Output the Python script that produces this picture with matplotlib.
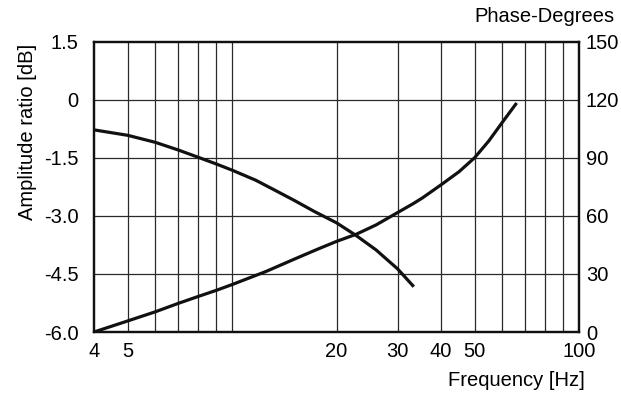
import numpy as np
import matplotlib.pyplot as plt
from matplotlib.ticker import FixedLocator, NullFormatter

plt.rcParams['font.family'] = ['Liberation Sans', 'DejaVu Sans']

# amplitude response (left axis, dB)
amp_freq = [4, 5, 6, 7, 8, 9, 10, 11.7, 13.3, 15.1, 17.2, 20, 22.8, 26, 30, 33.4]
amp_db = [-0.78, -0.92, -1.10, -1.30, -1.49, -1.66, -1.82, -2.08, -2.34,
          -2.60, -2.88, -3.18, -3.51, -3.88, -4.37, -4.83]

# phase response (right axis, degrees)
ph_freq = [4, 5, 6, 7, 8, 9, 10, 12.5, 15.1, 17.6, 20, 22.8, 26, 30, 33.2,
           35.4, 40, 45.1, 50, 54.9, 60, 66.1]
ph_deg = [0, 5.7, 10.4, 14.8, 18.4, 21.5, 24.5, 31.2, 37.6, 42.7, 46.8, 50.5,
          55.3, 61.7, 66.2, 69.3, 76.0, 82.8, 90, 98.6, 108.1, 118.3]

x_ticks = [4, 5, 20, 30, 40, 50, 100]
x_grid = [5, 6, 7, 8, 9, 10, 20, 30, 40, 50, 60, 70, 80, 90]
db_ticks = [1.5, 0, -1.5, -3.0, -4.5, -6.0]
db_labels = ['1.5', '0', '-1.5', '-3.0', '-4.5', '-6.0']
deg_ticks = [0, 30, 60, 90, 120, 150]

fs = 14.5
fig = plt.figure(figsize=(6.21, 4.0), dpi=100)
ax = fig.add_axes([0.1514, 0.17, 0.781, 0.726])
ax2 = ax.twinx()

ax.set_xscale('log')
ax.set_xlim(4, 100)
ax.set_ylim(-6.0, 1.5)
ax2.set_ylim(0, 150)

# grid lines drawn by hand so minor decades get lines too
for xv in x_grid:
    ax.axvline(xv, color='#2a2a2a', lw=0.9, zorder=1)
for yv in db_ticks[1:-1]:
    ax.axhline(yv, color='#2a2a2a', lw=0.9, zorder=1)

ax.xaxis.set_major_locator(FixedLocator(x_ticks))
ax.xaxis.set_minor_locator(FixedLocator([]))
ax.xaxis.set_minor_formatter(NullFormatter())
ax.set_xticklabels([str(v) for v in x_ticks])
ax.set_yticks(db_ticks)
ax.set_yticklabels(db_labels)
ax2.set_yticks(deg_ticks)
ax2.set_yticklabels([str(v) for v in deg_ticks])

ax.tick_params(axis='x', length=0, pad=7, labelsize=fs)
ax.tick_params(axis='y', length=0, pad=11, labelsize=fs)
ax2.tick_params(axis='y', length=0, pad=5, labelsize=fs)

ax.plot(amp_freq, amp_db, color='#111111', lw=2.3, zorder=3,
        solid_capstyle='butt', solid_joinstyle='round')
ax2.plot(ph_freq, ph_deg, color='#111111', lw=2.3, zorder=3,
         solid_capstyle='butt', solid_joinstyle='round')

for a in (ax, ax2):
    for s in a.spines.values():
        s.set_linewidth(1.6)
        s.set_color('#111111')

ax.set_ylabel('Amplitude ratio [dB]', fontsize=fs)
ax.yaxis.set_label_coords(-0.118, 0.69)
fig.text(0.99, 0.945, 'Phase-Degrees', fontsize=fs, ha='right', va='baseline')
fig.text(0.942, 0.035, 'Frequency [Hz]', fontsize=fs, ha='right', va='baseline')

fig.savefig('out.png', dpi=100)
